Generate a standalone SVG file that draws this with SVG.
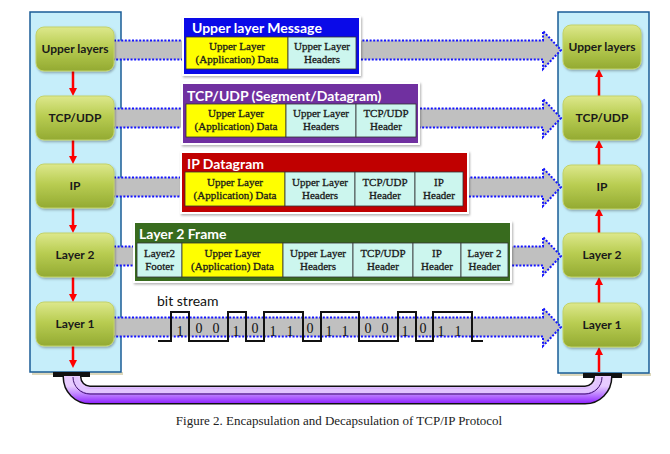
<svg xmlns="http://www.w3.org/2000/svg" width="670" height="454" viewBox="0 0 670 454">
<style>
.panel{fill:#c6eefa;stroke:#1a5c96;stroke-width:1.5}
.pshadow{fill:#ddd8bc}
.node{fill:url(#ng);stroke:#c2d26a;stroke-width:1}
.ntxt{font-family:Lato,"Liberation Sans",sans-serif;font-weight:bold;font-size:12px;fill:#1a1a1a;text-anchor:middle}
.band{fill:#c0c0c0;stroke:#1414ff;stroke-width:2;stroke-dasharray:2 1.6}
.red{stroke:#ff0000;stroke-width:2.5;fill:none;marker-end:url(#ra)}
.frame{fill:#fff}
.title{font-family:Lato,"Liberation Sans",sans-serif;font-weight:bold;font-size:14px;fill:#fff}
.cy{fill:#ffff00;stroke:#333;stroke-width:0.8}
.cc{fill:#ccf6ee;stroke:#333;stroke-width:0.8}
.ct{font-family:"Liberation Serif",serif;font-size:11px;fill:#1a1a1a;stroke:#1a1a1a;stroke-width:0.3;text-anchor:middle}
.bit{font-family:"Liberation Serif",serif;font-size:14px;fill:#111;text-anchor:middle}
.wave{fill:none;stroke:#111;stroke-width:2}
</style>
<defs>
<linearGradient id="ng" x1="0" y1="0" x2="0" y2="1">
<stop offset="0" stop-color="#dde88c"/>
<stop offset="0.45" stop-color="#b9cd52"/>
<stop offset="1" stop-color="#93aa32"/>
</linearGradient>
<linearGradient id="pg" gradientUnits="userSpaceOnUse" x1="0" y1="386" x2="0" y2="404">
<stop offset="0" stop-color="#e8ccff"/>
<stop offset="0.4" stop-color="#c48cff"/>
<stop offset="1" stop-color="#8c1eff"/>
</linearGradient>
<filter id="sh" x="-10%" y="-10%" width="130%" height="140%">
<feDropShadow dx="1" dy="1.5" stdDeviation="1.2" flood-color="#000" flood-opacity="0.3"/>
</filter>
<marker id="ra" viewBox="0 0 10 10" refX="2.5" refY="5" markerWidth="8" markerHeight="9" markerUnits="userSpaceOnUse" orient="auto">
<path d="M0,0 L10,5 L0,10 z" fill="#ff0000"/>
</marker>
</defs>

<rect width="670" height="454" fill="#fff"/>

<g id="panels">
<rect class="pshadow" x="32" y="372" width="91" height="3"/>
<rect class="panel" x="30" y="12" width="91" height="360"/>
<rect class="pshadow" x="560" y="373" width="91" height="3"/>
<rect class="panel" x="558" y="12" width="91" height="361"/>
</g>

<g id="connectors">
<g id="cable">
<rect x="53" y="372" width="37" height="5" fill="#111"/>
<rect x="583" y="373" width="39" height="5" fill="#111"/>
<path d="M72,376 V377 A18,18 0 0 0 90,395 H585 A18,18 0 0 0 603,377 V376" fill="none" stroke="#111" stroke-width="19"/>
<path d="M72,376 V377 A18,18 0 0 0 90,395 H585 A18,18 0 0 0 603,377 V376" fill="none" stroke="url(#pg)" stroke-width="16"/>
<path d="M76,377 A14,14 0 0 0 90,391 H585 A14,14 0 0 0 599,377" fill="none" stroke="#e2c4ff" stroke-width="4"/>
<path d="M73,377 A17,17 0 0 0 90,394 H585 A17,17 0 0 0 602,377" fill="none" stroke="#3a0c6a" stroke-width="1"/>
</g>
<path class="band" d="M114,40.5 H543 V31 L561,50 L543,69 V59.5 H114"/>
<path class="band" d="M114,108.5 H543 V99 L561,118 L543,137 V127.5 H114"/>
<path class="band" d="M114,177.5 H543 V168 L561,187 L543,206 V196.5 H114"/>
<path class="band" d="M114,246.5 H543 V237 L561,256 L543,275 V265.5 H114"/>
<path class="band" d="M114,317.5 H543 V308 L561,327 L543,346 V336.5 H114"/>
<line class="red" x1="73" y1="71" x2="73" y2="90"/>
<line class="red" x1="73" y1="140" x2="73" y2="158"/>
<line class="red" x1="73" y1="208" x2="73" y2="227"/>
<line class="red" x1="73" y1="277" x2="73" y2="296"/>
<line class="red" x1="73" y1="346" x2="73" y2="362"/>
<line class="red" x1="599" y1="372" x2="599" y2="353"/>
<line class="red" x1="599" y1="303" x2="599" y2="283"/>
<line class="red" x1="599" y1="233" x2="599" y2="214"/>
<line class="red" x1="599" y1="165" x2="599" y2="146"/>
<line class="red" x1="599" y1="96" x2="599" y2="75"/>
</g>

<g id="left-upper"><rect class="node" x="36" y="27" width="78" height="44" rx="8" filter="url(#sh)"/><text class="ntxt" x="75" y="53">Upper layers</text></g>
<g id="left-tcp"><rect class="node" x="36" y="96" width="78" height="44" rx="8" filter="url(#sh)"/><text class="ntxt" x="75" y="122">TCP/UDP</text></g>
<g id="left-ip"><rect class="node" x="36" y="164" width="78" height="44" rx="8" filter="url(#sh)"/><text class="ntxt" x="75" y="190">IP</text></g>
<g id="left-l2"><rect class="node" x="36" y="233" width="78" height="44" rx="8" filter="url(#sh)"/><text class="ntxt" x="75" y="259">Layer 2</text></g>
<g id="left-l1"><rect class="node" x="36" y="302" width="78" height="44" rx="8" filter="url(#sh)"/><text class="ntxt" x="75" y="328">Layer 1</text></g>

<g id="right-upper"><rect class="node" x="563" y="25" width="78" height="44" rx="8" filter="url(#sh)"/><text class="ntxt" x="602" y="51">Upper layers</text></g>
<g id="right-tcp"><rect class="node" x="563" y="96" width="78" height="44" rx="8" filter="url(#sh)"/><text class="ntxt" x="602" y="122">TCP/UDP</text></g>
<g id="right-ip"><rect class="node" x="563" y="165" width="78" height="44" rx="8" filter="url(#sh)"/><text class="ntxt" x="602" y="191">IP</text></g>
<g id="right-l2"><rect class="node" x="563" y="233" width="78" height="44" rx="8" filter="url(#sh)"/><text class="ntxt" x="602" y="259">Layer 2</text></g>
<g id="right-l1"><rect class="node" x="563" y="303" width="78" height="44" rx="8" filter="url(#sh)"/><text class="ntxt" x="602" y="329">Layer 1</text></g>

<g id="pkt-message">
<rect class="frame" x="182" y="16" width="179" height="60" filter="url(#sh)"/>
<rect x="184" y="18" width="175" height="56" fill="#0a0ae8"/>
<text class="title" x="192" y="33">Upper layer Message</text>
<rect class="cy" x="186" y="37" width="102" height="32"/>
<rect class="cc" x="288" y="37" width="68" height="32"/>
<text class="ct" x="237" y="50">Upper Layer</text><text class="ct" x="237" y="63">(Application) Data</text>
<text class="ct" x="322" y="50">Upper Layer</text><text class="ct" x="322" y="63">Headers</text>
</g>

<g id="pkt-segment">
<rect class="frame" x="181" y="82" width="239" height="63" filter="url(#sh)"/>
<rect x="183" y="84" width="235" height="59" fill="#7030a0"/>
<text class="title" x="187" y="101">TCP/UDP (Segment/Datagram)</text>
<rect class="cy" x="186" y="104" width="100" height="33"/>
<rect class="cc" x="286" y="104" width="70" height="33"/>
<rect class="cc" x="356" y="104" width="60" height="33"/>
<text class="ct" x="236" y="117">Upper Layer</text><text class="ct" x="236" y="130">(Application) Data</text>
<text class="ct" x="321" y="117">Upper Layer</text><text class="ct" x="321" y="130">Headers</text>
<text class="ct" x="386" y="117">TCP/UDP</text><text class="ct" x="386" y="130">Header</text>
</g>

<g id="pkt-ip">
<rect class="frame" x="180" y="151" width="289" height="63" filter="url(#sh)"/>
<rect x="182" y="153" width="285" height="59" fill="#c00000"/>
<text class="title" x="187" y="169">IP Datagram</text>
<rect class="cy" x="185" y="172" width="100" height="34"/>
<rect class="cc" x="285" y="172" width="70" height="34"/>
<rect class="cc" x="355" y="172" width="60" height="34"/>
<rect class="cc" x="415" y="172" width="48" height="34"/>
<text class="ct" x="235" y="186">Upper Layer</text><text class="ct" x="235" y="199">(Application) Data</text>
<text class="ct" x="320" y="186">Upper Layer</text><text class="ct" x="320" y="199">Headers</text>
<text class="ct" x="385" y="186">TCP/UDP</text><text class="ct" x="385" y="199">Header</text>
<text class="ct" x="439" y="186">IP</text><text class="ct" x="439" y="199">Header</text>
</g>

<g id="pkt-frame">
<rect class="frame" x="133" y="221" width="379" height="62" filter="url(#sh)"/>
<rect x="135" y="223" width="375" height="58" fill="#386b1e"/>
<text class="title" x="139" y="239">Layer 2 Frame</text>
<rect class="cc" x="137" y="243" width="45" height="34"/>
<rect class="cy" x="182" y="243" width="101" height="34"/>
<rect class="cc" x="283" y="243" width="70" height="34"/>
<rect class="cc" x="353" y="243" width="60" height="34"/>
<rect class="cc" x="413" y="243" width="48" height="34"/>
<rect class="cc" x="461" y="243" width="47" height="34"/>
<text class="ct" x="159.5" y="257">Layer2</text><text class="ct" x="159.5" y="270">Footer</text>
<text class="ct" x="232.5" y="257">Upper Layer</text><text class="ct" x="232.5" y="270">(Application) Data</text>
<text class="ct" x="318" y="257">Upper Layer</text><text class="ct" x="318" y="270">Headers</text>
<text class="ct" x="383" y="257">TCP/UDP</text><text class="ct" x="383" y="270">Header</text>
<text class="ct" x="437" y="257">IP</text><text class="ct" x="437" y="270">Header</text>
<text class="ct" x="484.5" y="257">Layer 2</text><text class="ct" x="484.5" y="270">Header</text>
</g>

<g id="bitstream">
<text x="157" y="306" font-family="Lato,'Liberation Sans',sans-serif" font-size="14" fill="#111">bit stream</text>
<path class="wave" d="M158,341 H171 V312 H189 V341 H228 V312 H246 V341 H264 V312 H303 V341 H321 V312 H359 V341 H398 V312 H416 V341 H433 V312 H472 V341 H483"/>
<text class="bit" x="180" y="336">1</text>
<text class="bit" x="199" y="333">0</text>
<text class="bit" x="216" y="333">0</text>
<text class="bit" x="236" y="336">1</text>
<text class="bit" x="255" y="333">0</text>
<text class="bit" x="273" y="336">1</text>
<text class="bit" x="290" y="336">1</text>
<text class="bit" x="310" y="333">0</text>
<text class="bit" x="329" y="336">1</text>
<text class="bit" x="345" y="336">1</text>
<text class="bit" x="368" y="333">0</text>
<text class="bit" x="385" y="333">0</text>
<text class="bit" x="405" y="336">1</text>
<text class="bit" x="423" y="333">0</text>
<text class="bit" x="441" y="336">1</text>
<text class="bit" x="458" y="336">1</text>
</g>

<text x="339" y="425" font-family="'Liberation Serif',serif" font-size="13" fill="#222" text-anchor="middle">Figure 2. Encapsulation and Decapsulation of TCP/IP Protocol</text>
</svg>
